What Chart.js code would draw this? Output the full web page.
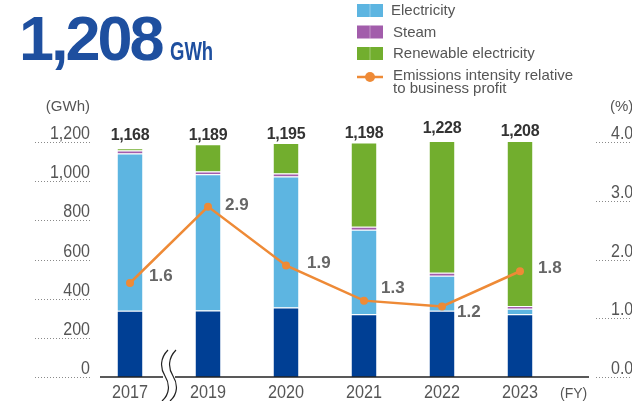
<!DOCTYPE html>
<html><head><meta charset="utf-8">
<script src="https://cdn.jsdelivr.net/npm/chart.js@4/dist/chart.umd.min.js"></script>
<style>html,body{margin:0;padding:0;background:#fff;overflow:hidden}canvas{display:block}</style>
</head><body>
<canvas id="c" width="632" height="401"></canvas>
<script>
const years = ['2017','2019','2020','2021','2022','2023'];
const baseLoad = [338,340,355,321,338,321];
const electricity = [803,695,669,431,179,27];
const steam = [15,15,15,15,15,15];
const renewable = [12,139,156,431,696,845];
const totals = [1168,1189,1195,1198,1228,1208];
const intensity = [1.6,2.9,1.9,1.3,1.2,1.8];
const leftTicks = [0,200,400,600,800,1000,1200];
const rightTicks = [0,1,2,3,4];
const legendItems = ['Electricity','Steam','Renewable electricity'];
const lineLegend = ['Emissions intensity relative','to business profit'];
const labelOffsets = [[19,-7],[17,-1],[21,-2],[17,-12],[15,6],[18,-3]];

const C = {base:'#003f94', elec:'#5db5e1', steam:'#a25dab', ren:'#72ae2e', line:'#ee8a36', title:'#1e4f9f'};
const F = '"Liberation Sans", Arial, sans-serif';

const bw = {top:1,bottom:0,left:0,right:0};
const barCommon = {borderColor:'#fff', borderWidth:bw, borderSkipped:false, barPercentage:0.32, categoryPercentage:1, order:1, yAxisID:'y'};

function fmt(n){return n.toLocaleString('en-US');}
function narrowText(ctx, t, px, py, sx, align){
  ctx.save(); ctx.translate(px,py); ctx.scale(sx,1); ctx.textAlign=align; ctx.fillText(t,0,0); ctx.restore();
}

const deco = {
  id:'deco',
  afterDraw(chart){
    const ctx = chart.ctx, x = chart.scales.x, y = chart.scales.y, y1 = chart.scales.y1;
    ctx.save();
    // title
    ctx.fillStyle = C.title; ctx.textBaseline='alphabetic'; ctx.textAlign='left';
    ctx.font = 'bold 63px '+F; ctx.letterSpacing='-3px';
    ctx.fillText(fmt(totals[totals.length-1]), 19, 60);
    ctx.letterSpacing='0px';
    ctx.font = 'bold 25px '+F;
    narrowText(ctx,'GWh',170,60,0.74,'left');
    // legend
    const cols=[C.elec,C.steam,C.ren];
    const ly=[4,25.5,47];
    ctx.font='15px '+F; ctx.textBaseline='middle';
    legendItems.forEach((t,i)=>{
      ctx.fillStyle=cols[i]; ctx.fillRect(357,ly[i],26,13);
      ctx.fillStyle='rgba(255,255,255,0.35)'; ctx.fillRect(369.5,ly[i],1,13);
      ctx.fillStyle='#555'; ctx.fillText(t, i==0?391:393, ly[i]+7);
    });
    ctx.strokeStyle=C.line; ctx.lineWidth=2.5; ctx.beginPath(); ctx.moveTo(357,77); ctx.lineTo(383,77); ctx.stroke();
    ctx.fillStyle=C.line; ctx.beginPath(); ctx.arc(370,77,5,0,Math.PI*2); ctx.fill();
    ctx.fillStyle='#555';
    ctx.fillText(lineLegend[0],393,76); ctx.fillText(lineLegend[1],393,89);
    // axis titles
    ctx.font='15px '+F; ctx.fillStyle='#555';
    ctx.textAlign='right'; ctx.fillText('(GWh)',90,107);
    ctx.textAlign='left'; ctx.fillText('(%)',610,107);
    // ticks
    ctx.strokeStyle='#8a8a8a'; ctx.lineWidth=1; ctx.setLineDash([1,2]);
    ctx.font='18px '+F; ctx.textBaseline='alphabetic';
    leftTicks.forEach(v=>{
      const py=Math.round(y.getPixelForValue(v))+0.5;
      ctx.beginPath(); ctx.moveTo(35,py); ctx.lineTo(90,py); ctx.stroke();
      ctx.fillStyle='#555'; narrowText(ctx, fmt(v), 90, py-3.5, 0.89, 'right');
    });
    rightTicks.forEach(v=>{
      const py=Math.round(y1.getPixelForValue(v))+0.5;
      ctx.beginPath(); ctx.moveTo(596,py); ctx.lineTo(632,py); ctx.stroke();
      ctx.fillStyle='#555'; narrowText(ctx, v.toFixed(1), 611, py-3.5, 0.89, 'left');
    });
    ctx.setLineDash([]);
    // x labels
    const by = y.getPixelForValue(0);
    ctx.fillStyle='#555'; ctx.font='18px '+F;
    years.forEach((t,i)=>narrowText(ctx, t, x.getPixelForValue(i), 398, 0.9, 'center'));
    ctx.font='14px '+F; ctx.textAlign='left'; ctx.fillText('(FY)',560,398);
    // axis line
    ctx.strokeStyle='#222'; ctx.lineWidth=1.5;
    ctx.beginPath(); ctx.moveTo(100,by); ctx.lineTo(589,by); ctx.stroke();
    // break
    const bx=(x.getPixelForValue(0)+x.getPixelForValue(1))/2;
    ctx.fillStyle='#fff'; ctx.fillRect(bx-6,by-3,12,6);
    ctx.strokeStyle='#222'; ctx.lineWidth=1.2;
    [-4,4].forEach(d=>{
      const cx=bx+d;
      ctx.beginPath(); ctx.moveTo(cx+3,350);
      ctx.bezierCurveTo(cx-5,358,cx-5,368,cx,376);
      ctx.bezierCurveTo(cx+5,384,cx+5,394,cx-3,401);
      ctx.stroke();
    });
    // totals
    ctx.font='bold 16px '+F; ctx.fillStyle='#333'; ctx.textAlign='center';
    ctx.letterSpacing='-0.3px';
    totals.forEach((v,i)=>ctx.fillText(fmt(v), x.getPixelForValue(i), Math.min(y.getPixelForValue(v)-4,140)));
    ctx.letterSpacing='0px';
    // line labels
    ctx.font='bold 17px '+F; ctx.fillStyle='#666'; ctx.textAlign='left'; ctx.textBaseline='middle';
    const meta = chart.getDatasetMeta(4);
    meta.data.forEach((p,i)=>{
      ctx.fillText(intensity[i].toFixed(1), p.x+labelOffsets[i][0], p.y+labelOffsets[i][1]);
    });
    ctx.restore();
  }
};

new Chart(document.getElementById('c'), {
  type:'bar',
  data:{
    labels: years,
    datasets:[
      Object.assign({label:'Fuel', data:baseLoad, backgroundColor:C.base}, barCommon),
      Object.assign({label:'Electricity', data:electricity, backgroundColor:C.elec}, barCommon),
      Object.assign({label:'Steam', data:steam, backgroundColor:C.steam}, barCommon),
      Object.assign({label:'Renewable electricity', data:renewable, backgroundColor:C.ren}, barCommon),
      {type:'line', label:'Emissions intensity relative to business profit', data:intensity, yAxisID:'y1',
       borderColor:C.line, backgroundColor:C.line, borderWidth:2.5, pointRadius:4, pointBackgroundColor:C.line,
       pointBorderWidth:0, tension:0, order:0}
    ]
  },
  options:{
    responsive:false, animation:false, devicePixelRatio:1,
    layout:{padding:{left:91,right:73,top:142,bottom:24}},
    plugins:{legend:{display:false}, tooltip:{enabled:false}},
    scales:{
      x:{display:false, stacked:true, offset:true},
      y:{display:false, stacked:true, min:0, max:1200},
      y1:{display:false, min:0, max:4}
    }
  },
  plugins:[deco]
});
</script>
</body></html>
